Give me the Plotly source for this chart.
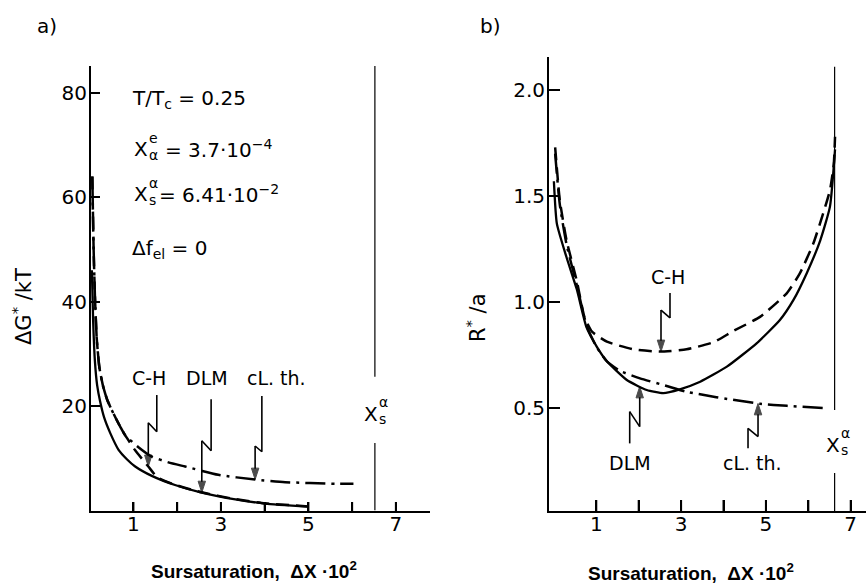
import numpy as np
import plotly.graph_objects as go

W, H = 866, 586
FONT = "DejaVu Sans"
BOLD = "Liberation Sans, Arial"

# ---------------- panel a: ΔG*/kT versus supersaturation ----------------
# Cahn-Hilliard (dashed)
a_ch_x = [0.06, 0.09, 0.12, 0.16, 0.22, 0.30, 0.40, 0.50, 0.60, 0.70, 0.81,
          1.04, 1.34, 1.55, 1.95, 2.56, 3.33, 4.01, 5.0]
a_ch_y = [64, 50, 41, 33, 27.5, 24.0, 21.2, 19.3, 17.6, 16.0, 14.4,
          11.5, 8.4, 6.3, 4.9, 3.45, 2.15, 1.35, 0.75]
# DLM (solid)
a_dlm_x = [0.05, 0.08, 0.12, 0.17, 0.24, 0.33, 0.47, 0.66, 0.85, 1.04, 1.42,
           1.95, 2.56, 3.33, 4.01, 5.0]
a_dlm_y = [46, 36, 28.5, 24, 20.8, 17.8, 14.8, 11.6, 9.8, 8.4, 6.6,
           4.85, 3.4, 2.1, 1.3, 0.7]
# classical theory (dash-dot)
a_cl_x = [0.06, 0.09, 0.12, 0.16, 0.22, 0.30, 0.40, 0.50, 0.60, 0.70, 0.81,
          1.10, 1.42, 1.80, 2.18, 2.94, 3.78, 4.47, 5.61, 6.03]
a_cl_y = [64, 50, 41, 33, 27.5, 24.0, 21.2, 19.3, 17.6, 16.0, 14.4,
          12.2, 10.3, 9.2, 8.4, 6.8, 5.9, 5.4, 5.1, 5.1]

# ---------------- panel b: R*/a versus supersaturation ----------------
b_ch_x = [0.03, 0.14, 0.30, 0.54, 0.72, 0.90, 1.25, 1.87, 2.50, 3.13, 3.76,
          4.22, 4.86, 5.49, 5.80, 6.12, 6.35, 6.51, 6.60, 6.63]
b_ch_y = [1.73, 1.48, 1.29, 1.10, 0.93, 0.86, 0.813, 0.777, 0.766, 0.777, 0.81,
          0.862, 0.93, 1.041, 1.135, 1.277, 1.418, 1.528, 1.65, 1.78]
b_dlm_x = [0.0, 0.07, 0.30, 0.54, 0.77, 1.01, 1.25, 1.72, 2.19, 2.58, 2.97,
           3.45, 4.08, 4.78, 5.33, 5.65, 5.96, 6.28, 6.51, 6.63]
b_dlm_y = [1.57, 1.37, 1.21, 1.06, 0.88, 0.79, 0.72, 0.632, 0.585, 0.57, 0.588,
           0.624, 0.695, 0.805, 0.915, 1.01, 1.135, 1.29, 1.45, 1.72]
b_cl_x = [0.03, 0.14, 0.30, 0.54, 0.77, 1.00, 1.25, 1.56, 2.03, 2.66, 3.12,
          3.83, 4.86, 5.50, 6.39]
b_cl_y = [1.70, 1.46, 1.27, 1.08, 0.89, 0.79, 0.72, 0.675, 0.64, 0.604, 0.577,
          0.551, 0.52, 0.51, 0.499]

# spinodal composition (position of the vertical marker)
xs_a = 6.52
xs_b = 6.62

x_ticks = [1, 2, 3, 4, 5, 6, 7]
x_ticktext = ["1", "", "3", "", "5", "", "7"]
a_yticks = [20, 40, 60, 80]
b_yticks = [0.5, 1.0, 1.5, 2.0]
b_yticktext = ["0.5", "1.0", "1.5", "2.0"]

A_YMIN, A_YMAX = -0.13, 85.17
B_YMIN, B_YMAX = 0.014, 2.156

# plot-area pixel boxes (left, top, right, bottom)
BOX_A = (91, 66, 430, 511)
BOX_B = (549, 57, 866, 511)


def P(x):
    return x / W


def Q(y):
    return 1 - y / H


fig = go.Figure()
annotations = []

DASH = "13px,7px"
DASHDOT = "20px,6px,3px,6px"


def curve(x, y, dash, width, xa, ya):
    fig.add_trace(go.Scatter(
        x=x, y=y, mode="lines", xaxis=xa, yaxis=ya,
        line=dict(color="black", width=width, dash=dash,
                  shape="spline", smoothing=0.5),
        showlegend=False, hoverinfo="skip"))


curve(a_dlm_x, a_dlm_y, "solid", 2.3, "x", "y")
curve(a_ch_x, a_ch_y, DASH, 2.5, "x", "y")
curve(a_cl_x, a_cl_y, DASHDOT, 2.5, "x", "y")

curve(b_dlm_x, b_dlm_y, "solid", 2.3, "x2", "y2")
curve(b_ch_x, b_ch_y, DASH, 2.5, "x2", "y2")
curve(b_cl_x, b_cl_y, DASHDOT, 2.5, "x2", "y2")


def pointer(xa, ya, cx, cy, tip_x, stem_x, y_far, y_kink_stem, y_kink_tip):
    """Broken ('lightning') leader ending in an arrowhead on a curve."""
    tip_y = float(np.interp(tip_x, cx, cy))
    fig.add_trace(go.Scatter(
        x=[stem_x, stem_x, tip_x, tip_x],
        y=[y_far, y_kink_stem, y_kink_tip, tip_y],
        mode="lines+markers", xaxis=xa, yaxis=ya,
        line=dict(color="black", width=1.6),
        marker=dict(symbol="arrow", size=[0, 0, 0, 12], color="black",
                    angleref="previous",
                    line=dict(width=1, color="black")),
        showlegend=False, hoverinfo="skip"))


# panel a leaders (pointing down)
pointer("x", "y", a_ch_x, a_ch_y, 1.34, 1.534, 22.1, 15.07, 16.79)
pointer("x", "y", a_dlm_x, a_dlm_y, 2.563, 2.776, 21.3, 11.42, 13.34)
pointer("x", "y", a_cl_x, a_cl_y, 3.782, 3.936, 21.9, 11.23, 12.33)
# panel b leaders
pointer("x2", "y2", b_ch_x, b_ch_y, 2.526, 2.738, 1.042, 0.925, 0.962)
pointer("x2", "y2", b_dlm_x, b_dlm_y, 2.024, 1.788, 0.333, 0.483, 0.412)
pointer("x2", "y2", b_cl_x, b_cl_y, 4.814, 4.578, 0.31, 0.404, 0.365)


# upward tick marks on the abscissae, drawn as a segment trace
def abscissa_ticks(xa, ya, ymin, ymax, box, tlen):
    h = (ymax - ymin) * tlen / (box[3] - box[1])
    xs, ys = [], []
    for t in x_ticks:
        xs += [t, t, None]
        ys += [ymin, ymin + h, None]
    fig.add_trace(go.Scatter(
        x=xs, y=ys, mode="lines", xaxis=xa, yaxis=ya, cliponaxis=False,
        line=dict(color="black", width=2),
        showlegend=False, hoverinfo="skip"))


abscissa_ticks("x", "y", A_YMIN, A_YMAX, BOX_A, 9)
abscissa_ticks("x2", "y2", B_YMIN, B_YMAX, BOX_B, 11)

# vertical markers at the spinodal, interrupted around their label
shapes = []
for x0, segs, xr, yr in [
    (xs_a, [(0, 12.9), (25.6, A_YMAX)], "x", "y"),
    (xs_b, [(0.014, 0.193), (0.49, 2.11)], "x2", "y2"),
]:
    for y0, y1 in segs:
        shapes.append(dict(type="line", xref=xr, yref=yr, x0=x0, x1=x0,
                           y0=y0, y1=y1, line=dict(color="black", width=1.2)))


def text(xpx, ypx, s, size=20, family=FONT, xanchor="left", angle=0):
    annotations.append(dict(
        x=P(xpx), y=Q(ypx), xref="paper", yref="paper", text=s,
        showarrow=False, xanchor=xanchor, yanchor="middle", textangle=angle,
        font=dict(family=family, size=size, color="black")))


def stacked(xpx, ypx, base, top, bottom, rest=None, rest_x=None,
            size=20, small=14, sx=15, dy_top=-11, dy_bot=6):
    text(xpx, ypx, base, size=size)
    text(xpx + sx, ypx + dy_top, top, size=small)
    text(xpx + sx, ypx + dy_bot, bottom, size=small)
    if rest is not None:
        text(rest_x, ypx, rest, size=size)


# panel labels
text(47, 26, "a)", xanchor="center")
text(490, 26, "b)", xanchor="center")

# parameter block of panel a
text(130, 99, "T/T<sub>c</sub> = 0.25")
stacked(132, 149, "X", "e", "α", "= 3.7·10<sup>−4</sup>", 163)
stacked(132, 194, "X", "α", "s", "= 6.41·10<sup>−2</sup>", 157)
text(130, 249, "Δf<sub>el</sub> = 0")

# spinodal labels
stacked(362, 414, "X", "α", "s", dy_top=-12, dy_bot=5)
stacked(824, 445, "X", "α", "s", dy_top=-12, dy_bot=5)

# curve labels
text(149, 378, "C-H", size=19, xanchor="center")
text(207, 378, "DLM", size=19, xanchor="center")
text(276, 378, "cL. th.", size=19, xanchor="center")
text(668, 277, "C-H", size=19, xanchor="center")
text(630, 463, "DLM", size=19, xanchor="center")
text(752, 463, "cL. th.", size=19, xanchor="center")

# axis titles
text(22, 307, "ΔG<sup>*</sup> /kT", size=21, xanchor="center", angle=-90)
text(476, 318, "R<sup>*</sup> /a", size=21, xanchor="center", angle=-90)
text(254, 570, "<b>Sursaturation,  ΔX ·10<sup>2</sup></b>", size=19,
     family=BOLD, xanchor="center")
text(691, 572, "<b>Sursaturation,  ΔX ·10<sup>2</sup></b>", size=19,
     family=BOLD, xanchor="center")

axis_common = dict(showline=True, linecolor="black", linewidth=2,
                   ticks="inside", tickwidth=2, tickcolor="black",
                   showgrid=False, zeroline=False, tickmode="array",
                   tickfont=dict(family=FONT, size=20, color="black"))

fig.update_layout(
    width=W, height=H,
    margin=dict(l=0, r=0, t=0, b=0),
    paper_bgcolor="white", plot_bgcolor="white",
    showlegend=False,
    xaxis=dict(domain=[P(BOX_A[0]), P(BOX_A[2])], range=[0.03, 7.78],
               anchor="y", tickvals=x_ticks, ticktext=x_ticktext, ticklen=9,
               ticklabelstandoff=-6, **axis_common),
    yaxis=dict(domain=[Q(BOX_A[3]), Q(BOX_A[1])], range=[A_YMIN, A_YMAX],
               anchor="x", tickvals=a_yticks, ticklen=9,
               ticklabelstandoff=-2, **axis_common),
    xaxis2=dict(domain=[P(BOX_B[0]), P(BOX_B[2])], range=[-0.115, 7.36],
                anchor="y2", tickvals=x_ticks, ticktext=x_ticktext,
                ticklen=11, ticklabelstandoff=-6, **axis_common),
    yaxis2=dict(domain=[Q(BOX_B[3]), Q(BOX_B[1])], range=[B_YMIN, B_YMAX],
                anchor="x2", tickvals=b_yticks, ticktext=b_yticktext,
                ticklen=11, ticklabelstandoff=-2, **axis_common),
    shapes=shapes,
    annotations=annotations,
)

fig.write_html("out.html")
